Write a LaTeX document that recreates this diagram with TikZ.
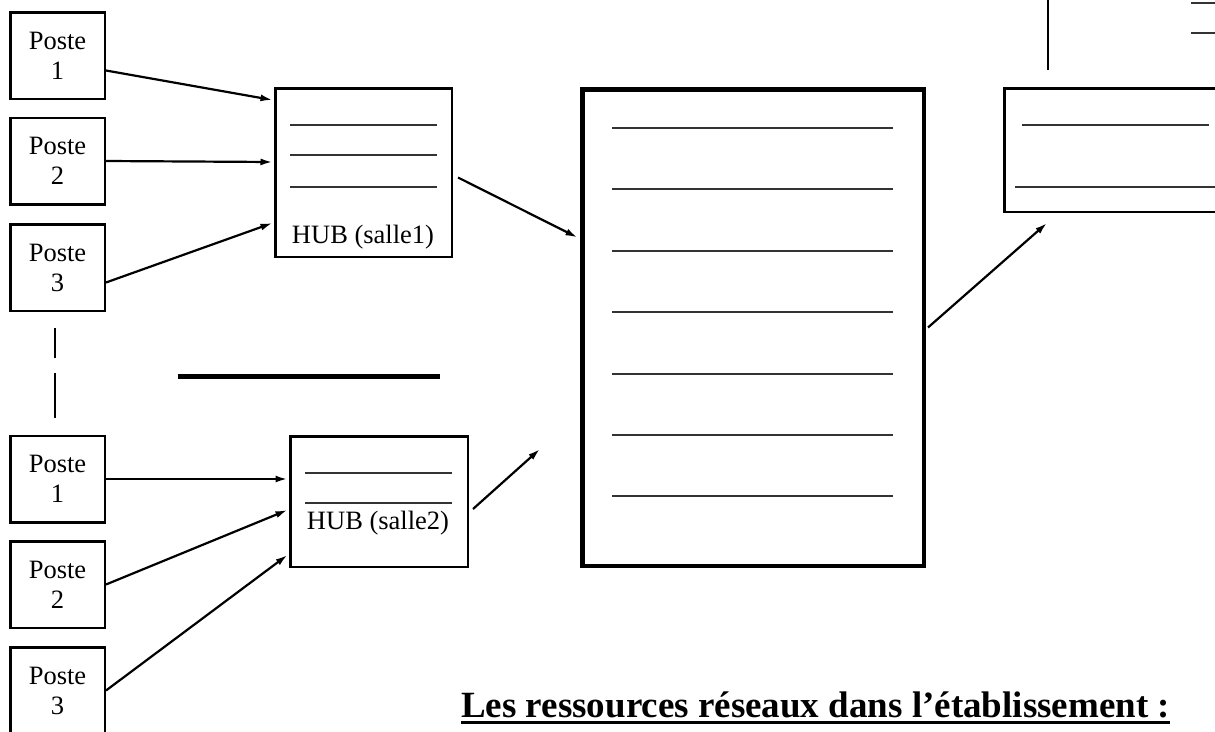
\documentclass[tikz,border=0pt]{standalone}
\usepackage{fontspec}
\setmainfont{Liberation Serif}
\usetikzlibrary{calc,arrows.meta}
\newcommand{\lignes}[3]{
	\foreach \yy in {#3} {
		\draw[trait] (#1,\yy) -- (#2,\yy);
	}
}
\tikzset{
	poste/.style={draw, line width=2.5pt, minimum width=94.5pt, minimum height=86.5pt,
		inner sep=0pt, align=center, font=\fontsize{26.5}{30}\selectfont},
	boite/.style={draw, line width=2.5pt, inner sep=0pt},
	fil/.style={line width=2.2pt, -{Latex[length=12pt,width=7pt]}},
	trait/.style={line width=1.3pt, black!80},
	lbl/.style={inner sep=0pt, font=\fontsize{26.5}{30}\selectfont},
	titre/.style={inner sep=0pt, font=\fontsize{37}{40}\selectfont\bfseries}
}

\begin{document}
\begin{tikzpicture}[x=1pt,y=-1pt]
	\useasboundingbox (0,0) rectangle (1215,731);
	\clip (0,0) rectangle (1215,731);

	\node[poste] (p1a) at (57.5,55.5) {Poste\\1};
	\node[poste] (p2a) at (57.5,161) {Poste\\2};
	\node[poste] (p3a) at (57.5,267.5) {Poste\\3};
	\node[poste] (p1b) at (57.5,479) {Poste\\1};
	\node[poste] (p2b) at (57.5,584.5) {Poste\\2};
	\node[poste] (p3b) at (57.5,690.5) {Poste\\3};

	\node[boite, minimum width=176.5pt, minimum height=168.5pt] (hubA) at (363.5,172.5) {};
	\lignes{290}{437}{125,155,187}
	\node[lbl, anchor=base] (hubAtxt) at (363,243) {HUB (salle1)};

	\node[boite, minimum width=177.5pt, minimum height=130.5pt] (hubB) at (379,501.5) {};
	\lignes{305}{452}{473,503}
	\node[lbl, anchor=base] (hubBtxt) at (378,529) {HUB (salle2)};

	\node[boite, line width=4.5pt, minimum width=341.5pt, minimum height=476.5pt] (centre) at (753,327.5) {};
	\lignes{612}{893}{128,189,251,312,374,435,496}

	\node[boite, minimum width=234.5pt, minimum height=123.5pt] (ext) at (1121.5,150) {};
	\lignes{1022}{1209}{125}
	\lignes{1015}{1225}{187}
	\lignes{1191}{1225}{3,33}
	\draw[line width=2.5pt] (1048,0) -- (1048,70);

	\draw[line width=5pt] (178,376) -- (440,376);
	\draw[line width=2pt] (55,328) -- (55,358) (55,373) -- (55,418);

	\coordinate (versB) at (540,449);
	\coordinate (versExt) at (1047,223);

	\draw[fil] ($(p1a.east)+(0,15)$) -- ($(hubA.west)+(-1.5,-72.5)$);
	\draw[fil] (p2a.east) -- ($(hubA.west)+(-1.5,-10.5)$);
	\draw[fil] ($(p3a.east)+(0,15)$) -- ($(hubA.west)+(-1.5,50.5)$);
	\draw[fil] ($(hubA.east)+(5,5)$) -- ($(centre.west)+(-2.5,-90)$);

	\draw[fil] (p1b.east) -- ($(hubB.west)+(-1.5,-22.5)$);
	\draw[fil] (p2b.east) -- ($(hubB.west)+(-1.5,8.5)$);
	\draw[fil] (p3b.east) -- ($(hubB.west)+(-1.5,53.5)$);
	\draw[fil] ($(hubB.east)+(4,7.5)$) -- (versB);

	\draw[fil] ($(centre.east)+(2,0)$) -- (versExt);

	\node[titre, anchor=base west] (titre) at (461,717) {Les ressources réseaux dans l’établissement :};
	\draw[line width=3pt] ($(titre.base west)+(0,5.5)$) -- ($(titre.base east)+(0,5.5)$);
\end{tikzpicture}
\end{document}
